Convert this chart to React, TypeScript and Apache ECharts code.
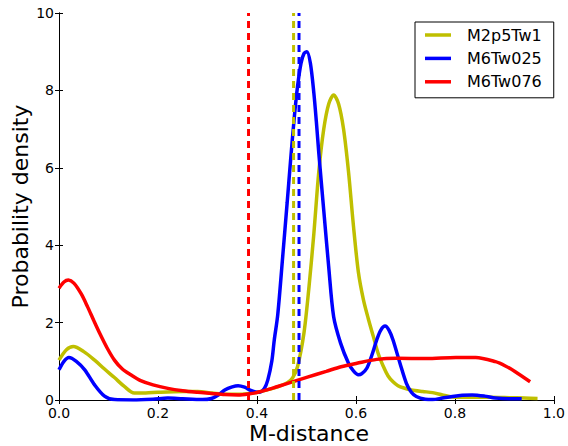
import React, { useEffect, useRef } from "react";
import * as echarts from "echarts";

const seriesNames = ["M2p5Tw1", "M6Tw025", "M6Tw076"];
const seriesColors = ["#bfbf00", "#0000ff", "#ff0000"];

const xYellow = [0.0, 0.015, 0.029, 0.05, 0.072, 0.092, 0.112, 0.132, 0.152, 0.175, 0.2, 0.25, 0.28, 0.31, 0.34, 0.37, 0.4, 0.42, 0.442, 0.462, 0.472, 0.482, 0.495, 0.505, 0.515, 0.525, 0.535, 0.545, 0.555, 0.565, 0.575, 0.585, 0.595, 0.605, 0.615, 0.625, 0.635, 0.645, 0.655, 0.665, 0.675, 0.685, 0.697, 0.712, 0.735, 0.755, 0.775, 0.795, 0.83, 0.87, 0.91, 0.94, 0.967];
const yYellow = [1.03, 1.3, 1.38, 1.25, 1.03, 0.8, 0.58, 0.35, 0.18, 0.18, 0.2, 0.22, 0.22, 0.18, 0.15, 0.15, 0.2, 0.26, 0.34, 0.45, 0.57, 0.86, 1.73, 2.9, 4.3, 5.9, 7.0, 7.65, 7.88, 7.65, 7.0, 5.9, 4.5, 3.3, 2.6, 2.1, 1.65, 1.2, 0.88, 0.62, 0.47, 0.37, 0.31, 0.26, 0.22, 0.19, 0.13, 0.08, 0.07, 0.07, 0.06, 0.05, 0.04];

const xBlue = [0.0, 0.01, 0.02, 0.035, 0.052, 0.072, 0.092, 0.112, 0.15, 0.19, 0.22, 0.25, 0.29, 0.308, 0.322, 0.335, 0.35, 0.362, 0.375, 0.389, 0.405, 0.415, 0.422, 0.43, 0.435, 0.442, 0.452, 0.461, 0.468, 0.475, 0.482, 0.489, 0.495, 0.501, 0.508, 0.515, 0.52, 0.525, 0.535, 0.545, 0.555, 0.569, 0.585, 0.595, 0.605, 0.612, 0.622, 0.632, 0.642, 0.65, 0.659, 0.667, 0.675, 0.689, 0.702, 0.712, 0.722, 0.74, 0.755, 0.775, 0.795, 0.815, 0.835, 0.86, 0.882, 0.91, 0.935];
const yBlue = [0.78, 1.0, 1.1, 1.0, 0.78, 0.39, 0.1, 0.01, 0.0, 0.02, 0.05, 0.03, 0.01, 0.04, 0.13, 0.26, 0.34, 0.37, 0.33, 0.24, 0.2, 0.3, 0.52, 1.0, 1.55, 2.2, 3.7, 5.09, 6.2, 7.24, 8.1, 8.7, 8.95, 9.0, 8.7, 7.93, 7.2, 6.38, 4.9, 3.44, 2.15, 1.47, 0.95, 0.75, 0.65, 0.68, 0.82, 1.15, 1.55, 1.8, 1.91, 1.8, 1.55, 0.95, 0.43, 0.2, 0.09, 0.02, 0.01, 0.05, 0.09, 0.12, 0.13, 0.1, 0.05, 0.03, 0.03];

const xRed = [0.0, 0.01, 0.019, 0.03, 0.045, 0.058, 0.07, 0.082, 0.097, 0.112, 0.128, 0.145, 0.165, 0.19, 0.22, 0.25, 0.28, 0.308, 0.335, 0.362, 0.385, 0.402, 0.42, 0.442, 0.47, 0.502, 0.54, 0.57, 0.602, 0.642, 0.682, 0.742, 0.802, 0.842, 0.882, 0.902, 0.922, 0.952];
const yRed = [2.89, 3.05, 3.1, 3.02, 2.74, 2.4, 2.06, 1.73, 1.35, 1.03, 0.8, 0.65, 0.5, 0.39, 0.3, 0.24, 0.2, 0.17, 0.14, 0.13, 0.16, 0.2, 0.26, 0.35, 0.46, 0.59, 0.74, 0.86, 0.95, 1.05, 1.08, 1.07, 1.1, 1.1, 0.99, 0.88, 0.73, 0.47];

// mean M-distance of each set (dashed vertical lines)
const meanLines = [0.474, 0.485, 0.383];

const xTicks = { min: 0, max: 1, interval: 0.2 };
const yTicks = { min: 0, max: 10, interval: 2 };

const FONT = "DejaVu Sans";

function zip(xs: number[], ys: number[]) {
  return xs.map((x, i) => [x, ys[i]]);
}

export default function App() {
  const ref = useRef<HTMLDivElement>(null);
  useEffect(() => {
    if (!ref.current) return;
    const chart = echarts.init(ref.current, undefined, { renderer: "svg" });
    const curves = [zip(xYellow, yYellow), zip(xBlue, yBlue), zip(xRed, yRed)];
    const tickCommon = { show: true, inside: true, length: 4, lineStyle: { color: "#000", width: 1 } };
    const axisLine = { show: true, lineStyle: { color: "#000", width: 1 } };
    const series: any[] = [];
    curves.forEach((d, i) => {
      series.push({
        type: "line",
        name: seriesNames[i],
        data: d,
        smooth: 0.3,
        showSymbol: false,
        symbol: "none",
        lineStyle: { color: seriesColors[i], width: 3.5 },
        itemStyle: { color: seriesColors[i] },
        z: 2,
      });
    });
    meanLines.forEach((m, i) => {
      series.push({
        type: "line",
        name: seriesNames[i] + " mean",
        data: [[m, yTicks.min], [m, yTicks.max]],
        symbol: "none",
        lineStyle: { color: seriesColors[i], width: 3, type: [7, 5] },
        z: 3,
      });
    });
    chart.setOption({
      animation: false,
      textStyle: { fontFamily: FONT },
      grid: { left: 59, top: 13, right: 9, bottom: 46, containLabel: false },
      xAxis: [
        {
          type: "value",
          ...xTicks,
          position: "bottom",
          axisLine,
          axisTick: tickCommon,
          splitLine: { show: false },
          axisLabel: { fontSize: 14, color: "#000", fontFamily: FONT, margin: 6, formatter: (v: number) => v.toFixed(1) },
        },
        {
          type: "value",
          ...xTicks,
          position: "top",
          axisLine,
          axisTick: tickCommon,
          splitLine: { show: false },
          axisLabel: { show: false },
        },
      ],
      yAxis: [
        {
          type: "value",
          ...yTicks,
          position: "left",
          axisLine,
          axisTick: tickCommon,
          splitLine: { show: false },
          axisLabel: { fontSize: 14, color: "#000", fontFamily: FONT, margin: 5 },
        },
        {
          type: "value",
          ...yTicks,
          position: "right",
          axisLine,
          axisTick: tickCommon,
          splitLine: { show: false },
          axisLabel: { show: false },
        },
      ],
      legend: {
        data: seriesNames.map((n) => ({ name: n, icon: "rect" })),
        orient: "vertical",
        left: 415,
        top: 22,
        itemWidth: 26,
        itemHeight: 3.5,
        itemGap: 3.4,
        padding: [3, 12, 6, 10],
        borderColor: "#000",
        borderWidth: 1,
        backgroundColor: "#fff",
        textStyle: { fontSize: 16, color: "#000", fontFamily: FONT, lineHeight: 20, padding: [0, 0, 0, 11] },
      },
      graphic: [
        {
          type: "text",
          x: 309,
          y: 433,
          style: { text: "M-distance", font: `22px '${FONT}'`, fill: "#000", align: "center", verticalAlign: "middle" },
        },
        {
          type: "text",
          x: 20,
          y: 206.5,
          rotation: Math.PI / 2,
          style: { text: "Probability density", font: `22px '${FONT}'`, fill: "#000", align: "center", verticalAlign: "middle" },
        },
      ],
      series,
    });
    return () => chart.dispose();
  }, []);
  return <div ref={ref} style={{ position: "fixed", left: 0, top: 0, width: 568, height: 446, background: "#fff" }} />;
}
